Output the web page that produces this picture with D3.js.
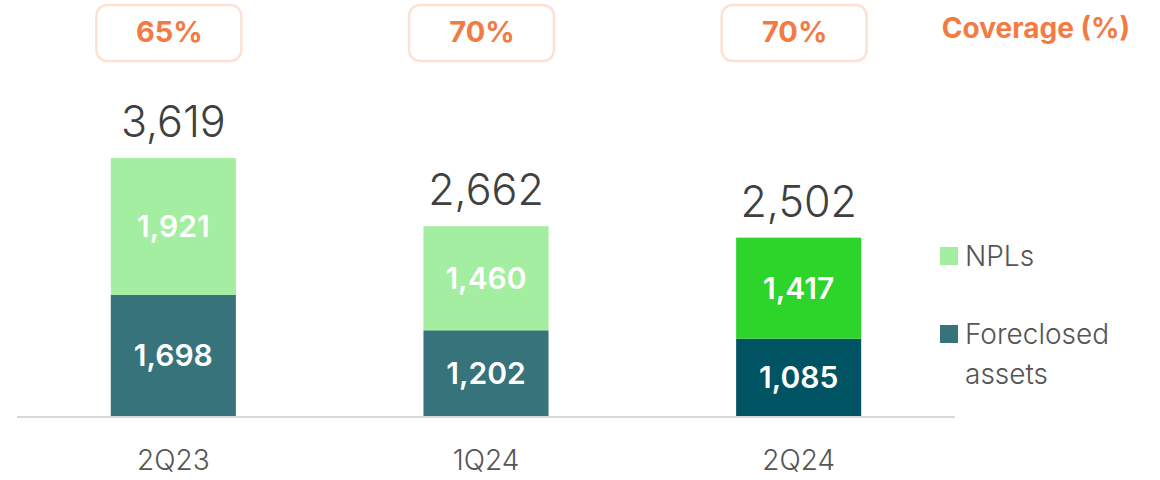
<html>
    <head>
        <title>NPLs and foreclosed assets</title>
        <script src="https://d3js.org/d3.v7.min.js"></script>
        <style>
            body { margin: 0; background: #fff; font-family: Inter, "Open Sans", sans-serif; }
        </style>
    </head>
    <body>
        <div id="container"></div>
        <script>
            var quarters = ["2Q23", "1Q24", "2Q24"];
            var foreclosed = [1698, 1202, 1085];
            var npls = [1921, 1460, 1417];
            var coverage = [65, 70, 70];

            var width = 1160;
            var height = 480;
            var baseY = 416;

            var svg = d3.select("#container")
                        .append("svg")
                        .attr("width", width)
                        .attr("height", height);

            var x = d3.scaleBand()
                      .domain(quarters)
                      .range([17, 955])
                      .paddingInner(0.6)
                      .paddingOuter(0.3);

            var y = d3.scaleLinear()
                      .domain([0, 3619])
                      .range([baseY, 158]);

            var fmt = d3.format(",");
            var lightNpl = "#a3eea0", lightFc = "#37737a";
            var lastNpl = "#2dd42a", lastFc = "#005363";

            var data = quarters.map(function(q, i) {
                return { q: q, fc: foreclosed[i], npl: npls[i], cov: coverage[i], last: i === quarters.length - 1 };
            });

            var g = svg.selectAll(".bar")
                       .data(data)
                       .enter()
                       .append("g")
                       .classed("bar", true);

            // foreclosed (bottom)
            g.append("rect")
             .attr("x", function(d) { return x(d.q); })
             .attr("width", x.bandwidth())
             .attr("y", function(d) { return y(d.fc); })
             .attr("height", function(d) { return baseY - y(d.fc); })
             .style("fill", function(d) { return d.last ? lastFc : lightFc; });

            // npls (top)
            g.append("rect")
             .attr("x", function(d) { return x(d.q); })
             .attr("width", x.bandwidth())
             .attr("y", function(d) { return y(d.fc + d.npl); })
             .attr("height", function(d) { return y(d.fc) - y(d.fc + d.npl); })
             .style("fill", function(d) { return d.last ? lastNpl : lightNpl; });

            var cx = function(d) { return x(d.q) + x.bandwidth() / 2; };

            g.append("text")
             .attr("x", cx)
             .attr("y", function(d) { return (baseY + y(d.fc)) / 2; })
             .attr("dy", "0.36em")
             .attr("text-anchor", "middle")
             .style("fill", "#fff")
             .style("font-size", "30px")
             .style("font-weight", 600)
             .text(function(d) { return fmt(d.fc); });

            g.append("text")
             .attr("x", cx)
             .attr("y", function(d) { return (y(d.fc) + y(d.fc + d.npl)) / 2; })
             .attr("dy", "0.36em")
             .attr("text-anchor", "middle")
             .style("fill", "#fff")
             .style("font-size", "30px")
             .style("font-weight", 600)
             .text(function(d) { return fmt(d.npl); });

            // totals
            g.append("text")
             .attr("x", cx)
             .attr("y", function(d) { return y(d.fc + d.npl) - 21; })
             .attr("text-anchor", "middle")
             .style("fill", "#404040")
             .style("font-size", "43px")
             .style("font-weight", 300)
             .text(function(d) { return fmt(d.fc + d.npl); });

            // coverage badges
            g.append("rect")
             .attr("x", function(d) { return cx(d) - 77; })
             .attr("y", 5)
             .attr("width", 145)
             .attr("height", 56)
             .attr("rx", 11)
             .style("fill", "#fff")
             .style("stroke", "#fde1d5")
             .style("stroke-width", 2.5);

            g.append("text")
             .attr("x", function(d) { return cx(d) - 4; })
             .attr("y", 32)
             .attr("dy", "0.36em")
             .attr("text-anchor", "middle")
             .style("fill", "#f47a43")
             .style("font-size", "29px")
             .style("font-weight", 700)
             .text(function(d) { return d.cov + "%"; });

            // baseline
            svg.append("line")
               .attr("x1", 17).attr("x2", 955)
               .attr("y1", baseY + 1).attr("y2", baseY + 1)
               .style("stroke", "#d9d9d9")
               .style("stroke-width", 2);

            var xAxis = svg.append("g")
                           .attr("transform", "translate(0," + baseY + ")")
                           .call(d3.axisBottom(x).tickSize(0).tickPadding(34));
            xAxis.select(".domain").remove();
            xAxis.selectAll("text")
                 .style("fill", "#555")
                 .style("font-size", "28px")
                 .style("font-family", "Inter, sans-serif")
                 .style("font-weight", 300);

            svg.append("text")
               .attr("x", 1130)
               .attr("y", 28)
               .attr("dy", "0.36em")
               .attr("text-anchor", "end")
               .style("fill", "#f47a43")
               .style("font-size", "28px")
               .style("font-weight", 700)
               .text("Coverage (%)");

            // legend
            var legend = [
                { label: ["NPLs"], color: lightNpl, y: 256 },
                { label: ["Foreclosed", "assets"], color: lightFc, y: 334 }
            ];
            var lg = svg.selectAll(".legend")
                        .data(legend)
                        .enter()
                        .append("g")
                        .classed("legend", true);
            lg.append("rect")
              .attr("x", 940)
              .attr("y", function(d) { return d.y - 9; })
              .attr("width", 18)
              .attr("height", 18)
              .style("fill", function(d) { return d.color; });
            lg.each(function(d) {
                var t = d3.select(this).append("text")
                          .style("fill", "#555")
                          .style("font-size", "28px")
                          .style("font-weight", 300);
                d.label.forEach(function(s, i) {
                    t.append("tspan")
                     .attr("x", 965)
                     .attr("y", d.y + i * 40)
                     .attr("dy", "0.36em")
                     .text(s);
                });
            });
        </script>
    </body>
</html>
